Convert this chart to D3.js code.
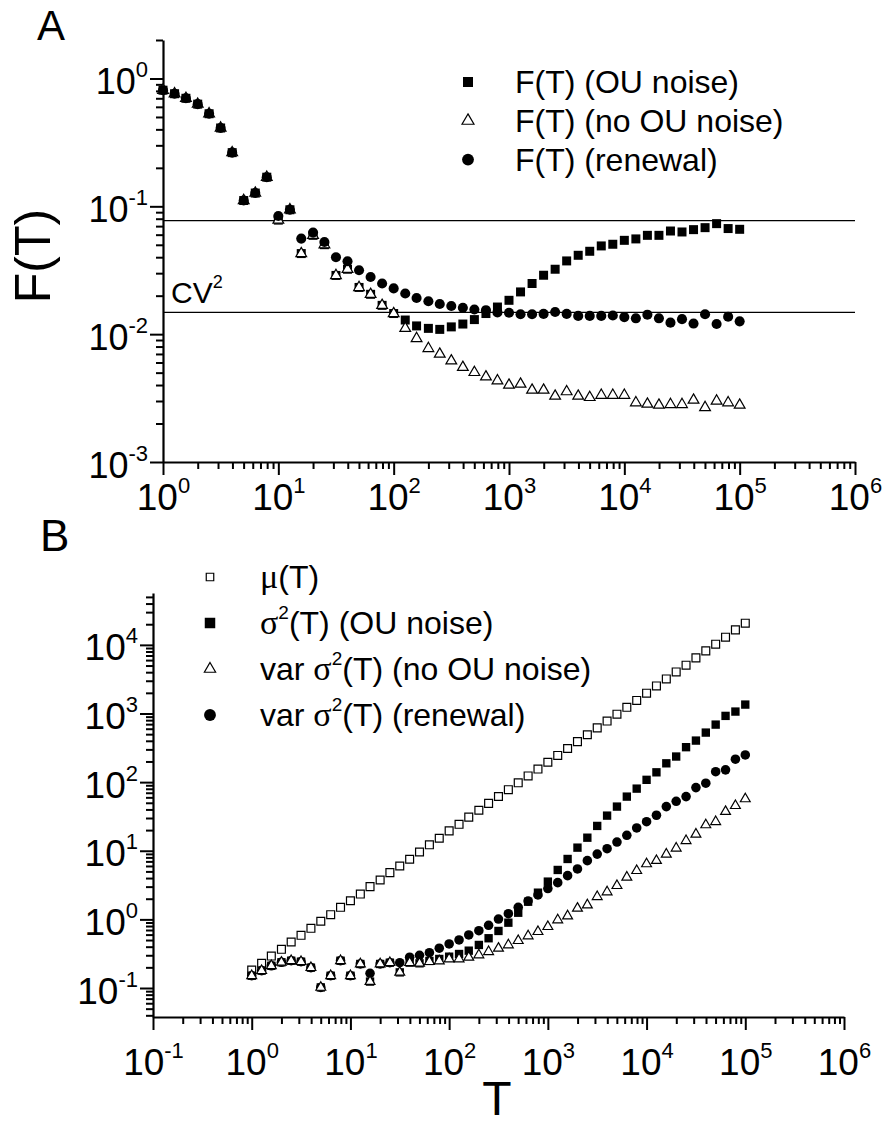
<!DOCTYPE html>
<html>
<head>
<meta charset="utf-8">
<script src="https://cdn.jsdelivr.net/npm/d3@7"></script>
<style>
  body { margin: 0; background: #fff; }
  text { font-family: "Liberation Sans", Arial, Helvetica, sans-serif; fill: #000; }
  .greek { font-family: "Liberation Serif", "DejaVu Serif", serif; }
</style>
</head>
<body>
<div id="chart"></div>
<script>
// sampling times (10 per decade)
const T = [1, 1.26, 1.58, 2, 2.51, 3.16, 3.98, 5.01, 6.31, 7.94,
  10, 12.6, 15.8, 20, 25.1, 31.6, 39.8, 50.1, 63.1, 79.4,
  100, 126, 158, 200, 251, 316, 398, 501, 631, 794,
  1000, 1259, 1585, 1995, 2512, 3162, 3981, 5012, 6310, 7943,
  10000, 12589, 15849, 19953, 25119, 31623, 39811, 50119, 63096, 79433, 100000];

// panel A: Fano factor
const fOU = [0.81, 0.76, 0.70, 0.63, 0.53, 0.41, 0.263, 0.111, 0.127, 0.169,
  0.078, 0.094, 0.0427, 0.0593, 0.0501, 0.0288, 0.0322, 0.0232, 0.0205, 0.0168,
  0.0145, 0.0129, 0.0116, 0.0111, 0.0109, 0.0114, 0.0120, 0.0130, 0.0145, 0.0163,
  0.0184, 0.0214, 0.0249, 0.0289, 0.0322, 0.0374, 0.0414, 0.0445, 0.0490, 0.0505,
  0.0542, 0.0556, 0.0593, 0.0593, 0.0641, 0.0630, 0.0657, 0.0681, 0.0732, 0.0670, 0.0661];
const fNoOU = [0.81, 0.76, 0.70, 0.63, 0.53, 0.41, 0.263, 0.111, 0.127, 0.169,
  0.078, 0.094, 0.0427, 0.0593, 0.0501, 0.0288, 0.0322, 0.0232, 0.0205, 0.0168,
  0.0145, 0.0111, 0.00925, 0.00773, 0.00698, 0.00619, 0.0055, 0.00502, 0.00464, 0.00432,
  0.0040, 0.00407, 0.00365, 0.00365, 0.00328, 0.00355, 0.00328, 0.0032, 0.00333, 0.00333,
  0.00333, 0.00291, 0.00284, 0.00279, 0.00282, 0.00282, 0.00305, 0.00267, 0.0030, 0.00291, 0.00279];
const fRenewal = [0.81, 0.76, 0.70, 0.63, 0.53, 0.41, 0.263, 0.111, 0.127, 0.169,
  0.084, 0.094, 0.0559, 0.0623, 0.0526, 0.040, 0.0372, 0.0316, 0.028, 0.0249,
  0.0228, 0.0208, 0.0192, 0.0181, 0.0172, 0.0166, 0.0161, 0.0156, 0.0154, 0.0148,
  0.0147, 0.0143, 0.0143, 0.0144, 0.0149, 0.0144, 0.0139, 0.0139, 0.0139, 0.0140,
  0.0136, 0.0133, 0.0142, 0.0133, 0.0123, 0.0131, 0.0121, 0.0143, 0.0120, 0.0137, 0.0126];
const refLines = [0.0773, 0.0148]; // upper level and CV^2

// panel B: mean and variances
const muT = [0.183, 0.229, 0.292, 0.366, 0.468, 0.586, 0.741, 0.938, 1.17, 1.50,
  1.87, 2.34, 3.0, 3.75, 4.80, 6.0, 7.52, 9.6, 12.2, 15.2,
  19.5, 24.3, 30.9, 38.9, 49, 61.7, 77.6, 97.7, 123, 155,
  195, 245, 309, 389, 490, 617, 776, 977, 1230, 1550,
  1977, 2523, 3190, 4036, 5058, 6457, 8185, 10230, 12940, 16560, 20700];
const sigOU = [0.151, 0.179, 0.211, 0.237, 0.250, 0.242, 0.198, 0.102, 0.151, 0.250,
  0.151, 0.224, 0.124, 0.224, 0.234, 0.169, 0.234, 0.229, 0.248, 0.265,
  0.286, 0.313, 0.350, 0.424, 0.531, 0.678, 0.895, 1.25, 1.81, 2.45,
  3.55, 5.25, 7.59, 11.1, 15.5, 23.0, 32.5, 44.0, 61.5, 80.4,
  108, 139, 188, 236, 323, 403, 527, 689, 923, 1067, 1349];
const varNoOU = [0.151, 0.179, 0.211, 0.237, 0.250, 0.242, 0.198, 0.102, 0.151, 0.250,
  0.151, 0.224, 0.124, 0.224, 0.234, 0.169, 0.234, 0.229, 0.242, 0.248,
  0.265, 0.265, 0.280, 0.303, 0.338, 0.379, 0.424, 0.490, 0.573, 0.662,
  0.783, 0.98, 1.12, 1.45, 1.62, 2.14, 2.51, 3.10, 4.11, 5.13,
  6.43, 7.18, 8.89, 10.9, 14.0, 17.4, 23.8, 26.5, 37.2, 45.4, 56.9];
const varRenewal = [0.151, 0.179, 0.211, 0.237, 0.250, 0.242, 0.198, 0.102, 0.151, 0.250,
  0.151, 0.224, 0.164, 0.224, 0.234, 0.234, 0.281, 0.300, 0.327, 0.380,
  0.438, 0.501, 0.593, 0.684, 0.820, 1.01, 1.21, 1.50, 1.85, 2.27,
  2.81, 3.43, 4.34, 5.43, 7.18, 8.93, 10.7, 13.4, 16.8, 21.5,
  26.5, 32.9, 44.0, 52.5, 61.5, 83.2, 96.4, 142, 151, 216, 249];

const majorsAx = [1, 10, 100, 1000, 1e4, 1e5, 1e6];
const majorsAy = [1e-3, 1e-2, 1e-1, 1];
const majorsBx = [0.1, 1, 10, 100, 1000, 1e4, 1e5, 1e6];
const majorsBy = [0.1, 1, 10, 100, 1000, 1e4];

const width = 885, height = 1126;

const svg = d3.select("#chart").append("svg")
  .attr("width", width)
  .attr("height", height);
svg.append("rect").attr("width", width).attr("height", height).attr("fill", "#fff");

// scales
const xA = d3.scaleLog().domain([1, 1e6]).range([163, 855]);
const yA = d3.scaleLog().domain([1e-3, 2]).range([462, 40]);
const xB = d3.scaleLog().domain([0.1, 1e6]).range([153, 844]);
const yB = d3.scaleLog().domain([0.0378, 57000]).range([1017, 593]);

function minorTicks(scale) {
  const [a, b] = scale.domain();
  const out = [];
  for (let e = Math.floor(Math.log10(a)); e <= Math.ceil(Math.log10(b)); e++) {
    for (let m = 2; m <= 9; m++) {
      const v = m * Math.pow(10, e);
      if (v >= a * 0.999 && v <= b * 1.001) out.push(v);
    }
  }
  return out;
}

const expOf = d => String(Math.round(Math.log10(d)));

function drawAxis(side, scale, pos, majors, fs, labelOff) {
  const bottom = side === "bottom";
  const make = bottom ? d3.axisBottom : d3.axisLeft;
  const g = svg.append("g")
    .attr("transform", bottom ? `translate(0,${pos})` : `translate(${pos},0)`);

  g.append("g")
    .call(make(scale).tickValues(minorTicks(scale)).tickSize(7).tickSizeOuter(0).tickFormat(""))
    .call(s => s.select(".domain").remove())
    .selectAll("line").attr("stroke-width", 2);

  const maj = g.append("g")
    .call(make(scale).tickValues(majors).tickSize(13).tickSizeOuter(0).tickFormat(""));
  maj.select(".domain").attr("stroke-width", 2.2);
  maj.selectAll("line").attr("stroke-width", 2);

  const t = maj.selectAll(".tick").append("text")
    .attr("font-size", fs)
    .attr("text-anchor", bottom ? "middle" : "end")
    .attr("x", bottom ? 0 : -labelOff[0])
    .attr("y", labelOff[1]);
  t.append("tspan").text("10");
  t.append("tspan")
    .attr("dy", -Math.round(fs * 0.47))
    .attr("font-size", Math.round(fs * 0.6))
    .text(d => expOf(d));
}

// ---------- panel A ----------
drawAxis("bottom", xA, 462, majorsAx, 37, [0, 48]);
drawAxis("left", yA, 163, majorsAy, 36, [15, 15]);

svg.selectAll(".refline")
  .data(refLines)
  .join("line")
  .attr("class", "refline")
  .attr("x1", xA.range()[0]).attr("x2", xA.range()[1])
  .attr("y1", d => yA(d)).attr("y2", d => yA(d))
  .attr("stroke", "#000").attr("stroke-width", 1.1);

const cv = svg.append("text").attr("x", 171).attr("y", 303).attr("font-size", 30);
cv.append("tspan").text("CV");
cv.append("tspan").attr("dy", -15).attr("font-size", 18).text("2");

const sq = d3.symbol().type(d3.symbolSquare);
const tri = d3.symbol().type(d3.symbolTriangle);
const circ = d3.symbol().type(d3.symbolCircle);

function plot(xs, ys, vals, shape, size, fill, strokeW) {
  svg.append("g")
    .selectAll("path")
    .data(vals.map((v, i) => [T[i], v]))
    .join("path")
    .attr("transform", d => `translate(${xs(d[0])},${ys(d[1])})`)
    .attr("d", shape.size(size)())
    .attr("fill", fill)
    .attr("stroke", "#000")
    .attr("stroke-width", strokeW);
}

plot(xA, yA, fOU, sq, 81, "#000", 0);
plot(xA, yA, fNoOU, tri, 50, "#fff", 1.2);
plot(xA, yA, fRenewal, circ, 80, "#000", 0);

// legend A
const legA = [
  { shape: sq, size: 100, fill: "#000", sw: 0, label: "F(T) (OU noise)" },
  { shape: tri, size: 62, fill: "#fff", sw: 1.2, label: "F(T) (no OU noise)" },
  { shape: circ, size: 110, fill: "#000", sw: 0, label: "F(T) (renewal)" }
];
const gLA = svg.append("g");
legA.forEach((d, i) => {
  const y = 82 + i * 38.8;
  gLA.append("path")
    .attr("transform", `translate(468,${y})`)
    .attr("d", d.shape.size(d.size)())
    .attr("fill", d.fill).attr("stroke", "#000").attr("stroke-width", d.sw);
  gLA.append("text").attr("x", 515).attr("y", y + 11).attr("font-size", 32).text(d.label);
});

svg.append("text").attr("x", 37).attr("y", 40).attr("font-size", 42).text("A");
svg.append("text")
  .attr("transform", "translate(50,256) rotate(-90)")
  .attr("text-anchor", "middle")
  .attr("font-size", 50)
  .text("F(T)");

// ---------- panel B ----------
drawAxis("bottom", xB, 1017, majorsBx, 37, [0, 58]);
drawAxis("left", yB, 153, majorsBy, 37, [15, 15]);

plot(xB, yB, muT, sq, 62, "#fff", 1.2);
plot(xB, yB, varRenewal, circ, 72, "#000", 0);
plot(xB, yB, sigOU, sq, 70, "#000", 0);
plot(xB, yB, varNoOU, tri, 42, "#fff", 1.2);

// legend B
const legB = [
  { shape: sq, size: 56, fill: "#fff", sw: 1.2, parts: [["g", "\u03bc"], ["n", "(T)"]] },
  { shape: sq, size: 110, fill: "#000", sw: 0, parts: [["g", "\u03c3"], ["s", "2"], ["n", "(T) (OU noise)"]] },
  { shape: tri, size: 55, fill: "#fff", sw: 1.2, parts: [["n", "var "], ["g", "\u03c3"], ["s", "2"], ["n", "(T) (no OU noise)"]] },
  { shape: circ, size: 110, fill: "#000", sw: 0, parts: [["n", "var "], ["g", "\u03c3"], ["s", "2"], ["n", "(T) (renewal)"]] }
];
const gLB = svg.append("g");
legB.forEach((d, i) => {
  const y = 577 + i * 46;
  gLB.append("path")
    .attr("transform", `translate(210,${y})`)
    .attr("d", d.shape.size(d.size)())
    .attr("fill", d.fill).attr("stroke", "#000").attr("stroke-width", d.sw);
  const t = gLB.append("text").attr("x", 260).attr("y", y + 11).attr("font-size", 32);
  let raised = false;
  d.parts.forEach(([kind, s]) => {
    const ts = t.append("tspan").text(s);
    if (kind === "g") ts.attr("class", "greek").attr("font-size", 34);
    if (kind === "s") { ts.attr("dy", -15).attr("font-size", 19); raised = true; }
    else if (raised) { ts.attr("dy", 15); raised = false; }
  });
});

svg.append("text").attr("x", 40).attr("y", 551).attr("font-size", 44).text("B");
svg.append("text")
  .attr("x", 497).attr("y", 1115)
  .attr("text-anchor", "middle")
  .attr("font-size", 48)
  .text("T");
</script>
</body>
</html>
